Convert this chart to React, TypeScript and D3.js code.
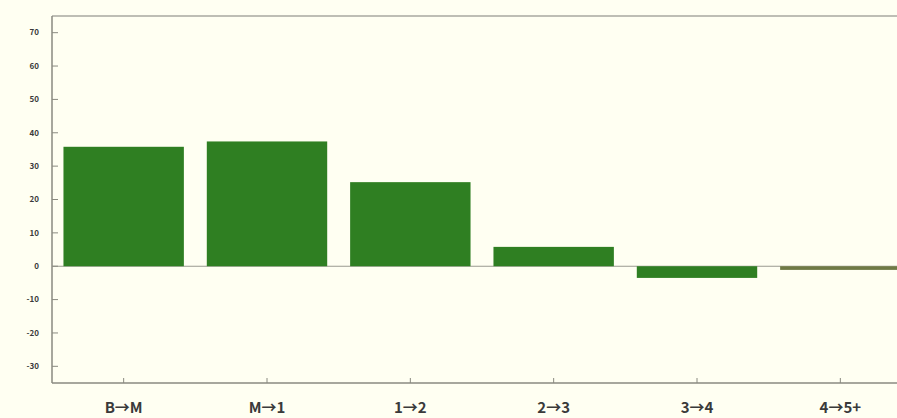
import React from "react";
import * as d3 from "d3";

const categories = ["B→M", "M→1", "1→2", "2→3", "3→4", "4→5+"];
const values = [35.8, 37.4, 25.2, 5.8, -3.5, -1.1];
const yTicks = [-30, -20, -10, 0, 10, 20, 30, 40, 50, 60, 70];

const W = 897;
const H = 418;
const left = 52;
const top = 16;
const bottom = 383;
const rightExt = 912;

export default function App() {
  const x = d3
    .scaleBand<string>()
    .domain(categories)
    .range([left, rightExt])
    .paddingInner(0.16)
    .paddingOuter(0.08);
  const y = d3.scaleLinear().domain([-35, 75]).range([bottom, top]);
  const axisColor = "#8a8a80";
  return (
    <svg
      width={W}
      height={H}
      style={{ position: "absolute", left: 0, top: 0, background: "#fffff2" }}
    >
      <rect x={0} y={0} width={W} height={H} fill="#fffff2" />
      <line x1={left} x2={W} y1={top} y2={top} stroke="#a8a8a0" strokeWidth={1.5} />
      <line x1={left} x2={W} y1={bottom} y2={bottom} stroke={axisColor} strokeWidth={1.5} />
      <line x1={left} x2={left} y1={top} y2={bottom} stroke={axisColor} strokeWidth={1.5} />
      <line x1={left} x2={W} y1={y(0)} y2={y(0)} stroke="#9a9a90" strokeWidth={1.2} />
      {categories.map((c, i) => {
        const v = values[i];
        const y0 = y(Math.max(0, v));
        const h = Math.abs(y(v) - y(0));
        return (
          <rect
            key={c}
            x={x(c)}
            y={y0}
            width={x.bandwidth()}
            height={h}
            fill={i === 5 ? "#6f7a45" : "#2f7f22"}
          />
        );
      })}
      {yTicks.map((t) => (
        <g key={t}>
          <line x1={left} x2={left + 6} y1={y(t)} y2={y(t)} stroke={axisColor} strokeWidth={1} />
          <text
            x={39}
            y={y(t)}
            dy="0.35em"
            textAnchor="end"
            fontSize={8}
            fontWeight="bold"
            fontFamily="'Noto Sans CJK JP', 'DejaVu Sans', sans-serif"
            fill="#3a3a3a"
          >
            {t}
          </text>
        </g>
      ))}
      {categories.map((c) => {
        const cx = (x(c) as number) + x.bandwidth() / 2;
        return (
          <g key={c}>
            <line x1={cx} x2={cx} y1={bottom} y2={bottom - 5} stroke={axisColor} strokeWidth={1} />
            <text
              x={cx}
              y={413}
              textAnchor="middle"
              fontSize={15}
              fontWeight="bold"
              fontFamily="'Noto Sans CJK JP', 'DejaVu Sans', sans-serif"
              fill="#3a3a3a"
            >
              {c}
            </text>
          </g>
        );
      })}
    </svg>
  );
}
